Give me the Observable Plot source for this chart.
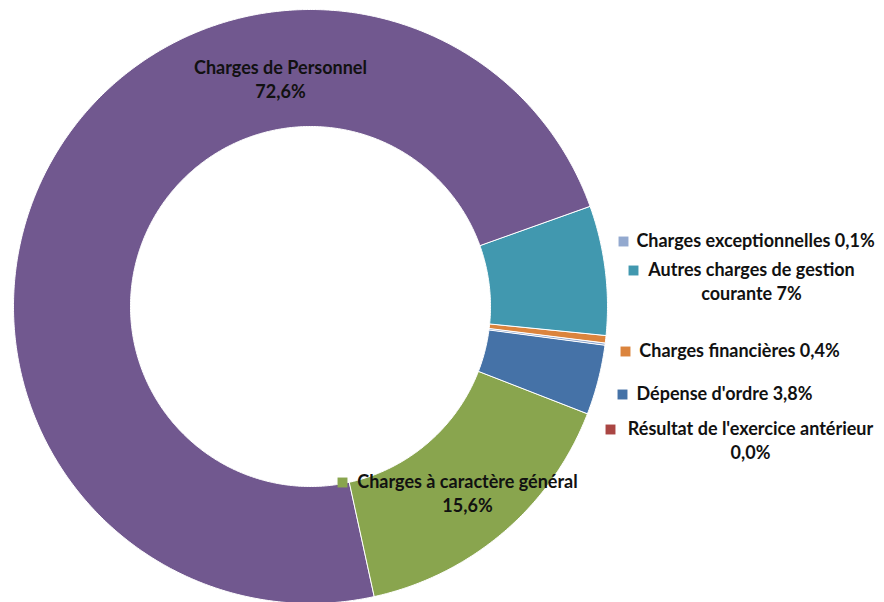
<!DOCTYPE html>
<html><head><meta charset="utf-8">
<script src="https://cdn.jsdelivr.net/npm/d3@7"></script>
<script src="https://cdn.jsdelivr.net/npm/@observablehq/plot@0.6"></script>
<style>body{margin:0;background:#fff}</style>
</head><body><div id="chart"></div>
<script>
// ---- data (Excel series order, clockwise) ----
const categories = ["Dépense d'ordre", "Résultat de l'exercice antérieur", "Charges à caractère général", "Charges de Personnel", "Autres charges de gestion courante", "Charges financières", "Charges exceptionnelles"];
const values = [3.8, 0.0, 15.6, 72.6, 7, 0.4, 0.1];
const valueLabels = ["3,8%", "0,0%", "15,6%", "72,6%", "7%", "0,4%", "0,1%"];
const colors = ["#4572A7", "#AA4643", "#89A54E", "#71588F", "#4198AF", "#DB843D", "#93A9CF"];

// ---- layout (pixels) ----
const W = 884, H = 602;
const ring = {cx: 310, cy: 306, R: 297, r: 180, start: 97.5};
// words on first line (null = single line), text centre x, first line y, legend key x
const labelLayout = [
  {split: null, tx: 724, ty: 394, mx: 622},
  {split: 4, tx: 750, ty: 429, mx: 610},
  {split: 4, tx: 467, ty: 482, mx: 342},
  {split: 3, tx: 280, ty: 68, mx: null},
  {split: 4, tx: 751, ty: 270, mx: 633},
  {split: null, tx: 739, ty: 351, mx: 625},
  {split: null, tx: 755, ty: 241, mx: 623}
];
const lineH = 23.5;

// ---- build slices ----
const total = d3.sum(values);
const rad = Math.PI / 180;
const pts = [];
let acc = ring.start;
values.forEach((v, i) => {
  const span = v / total * 360;
  const a0 = acc, a1 = acc + span;
  acc = a1;
  if (span <= 0) return;
  const n = Math.max(2, Math.ceil(span / 0.5));
  for (let k = 0; k <= n; k++) {
    const a = (a0 + (a1 - a0) * k / n) * rad;
    pts.push({id: i, color: colors[i], x: ring.cx + ring.R * Math.sin(a), y: ring.cy - ring.R * Math.cos(a)});
  }
  for (let k = n; k >= 0; k--) {
    const a = (a0 + (a1 - a0) * k / n) * rad;
    pts.push({id: i, color: colors[i], x: ring.cx + ring.r * Math.sin(a), y: ring.cy - ring.r * Math.cos(a)});
  }
});

// ---- labels ----
const textRows = [];
const keys = [];
categories.forEach((c, i) => {
  const L = labelLayout[i];
  const words = (c + " " + valueLabels[i]).split(" ");
  const lines = L.split == null ? [words.join(" ")] : [words.slice(0, L.split).join(" "), words.slice(L.split).join(" ")];
  lines.forEach((t, j) => textRows.push({x: L.tx, y: L.ty + j * lineH, text: t}));
  if (L.mx != null) keys.push({x: L.mx, y: L.ty, color: colors[i]});
});

const chart = Plot.plot({
  width: W, height: H,
  margin: 0,
  x: {domain: [0, W], range: [0, W], axis: null},
  y: {domain: [0, H], range: [0, H], axis: null},
  color: {type: "identity"},
  style: {fontFamily: "Lato, 'Open Sans', sans-serif", background: "#fff"},
  marks: [
    Plot.line(pts, {x: "x", y: "y", z: "id", fill: "color", stroke: "white", strokeWidth: 1, curve: "linear-closed"}),
    Plot.dot(keys, {x: "x", y: "y", fill: "color", symbol: "square", r: 5.6, stroke: null}),
    Plot.text(textRows, {x: "x", y: "y", text: "text", fontSize: 18, fontWeight: "bold", fill: "#111", textAnchor: "middle"})
  ]
});
document.getElementById("chart").append(chart);
</script>
</body></html>
